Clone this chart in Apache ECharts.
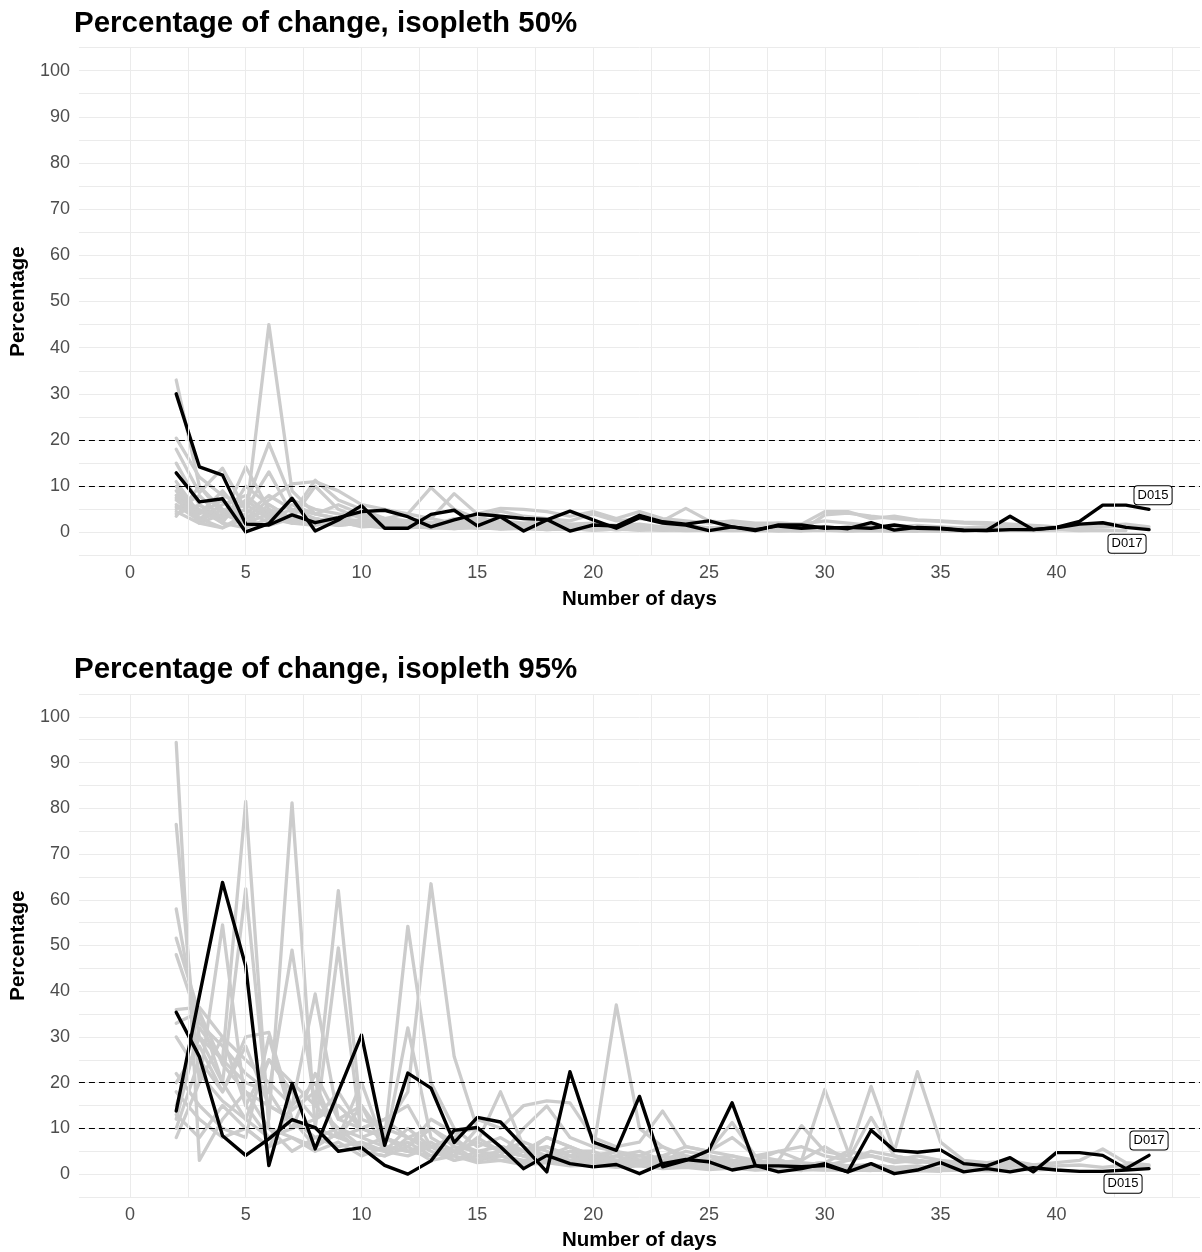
<!DOCTYPE html>
<html>
<head>
<meta charset="utf-8">
<script src="https://cdn.jsdelivr.net/npm/echarts@6/dist/echarts.min.js"></script>
<style>
  html, body { margin: 0; padding: 0; background: #ffffff; }
  #chart { width: 1202px; height: 1252px; }
</style>
</head>
<body>
<div id="chart"></div>
<script>
// Tracking day of each value (index 0 = day 2)
const days = [2, 3, 4, 5, 6, 7, 8, 9, 10, 11, 12, 13, 14, 15, 16, 17, 18, 19, 20, 21, 22, 23,
  24, 25, 26, 27, 28, 29, 30, 31, 32, 33, 34, 35, 36, 37, 38, 39, 40, 41, 42, 43, 44];

const xTicks = [0, 5, 10, 15, 20, 25, 30, 35, 40];
const yTicks = [0, 10, 20, 30, 40, 50, 60, 70, 80, 90, 100];
const thresholds = [10, 20];

// ---- Isopleth 50 % : highlighted individuals ----
const iso50_D015 = [30, 14.2, 12.4, 1.8, 1.6, 3.8, 2.1, 3.2, 4.5, 4.8, 3.4, 1.2, 2.7, 4.0, 3.5, 3.0, 2.8,
  0.3, 1.6, 1.4, 3.7, 2.3, 1.8, 2.5, 1.2, 0.4, 1.6, 1.6, 0.9, 1.1, 0.9, 1.6, 0.9, 0.8, 0.4, 0.5, 3.5,
  0.6, 1.1, 2.4, 5.9, 5.9, 5.0];
const iso50_D017 = [12.9, 6.6, 7.3, 0.1, 1.9, 7.4, 0.3, 2.7, 5.8, 0.9, 0.9, 3.9, 4.8, 1.4, 3.4, 0.3, 2.7,
  4.6, 2.7, 0.9, 3.2, 2.0, 1.6, 0.4, 1.2, 0.6, 1.4, 0.9, 1.2, 0.8, 2.1, 0.5, 1.1, 0.9, 0.5, 0.4, 0.6,
  0.6, 1.0, 1.8, 2.1, 1.1, 0.6];

// ---- Isopleth 50 % : other individuals ----
const iso50_g01 = [33, 10, 5, 3, 45, 9, 4, 3, 2.5, 2, 1.5, 2, 1.2, 1.5, 1, 1.2, 0.8, 1, 0.7, 1, 0.6, 0.8,
  0.5, 0.7, 0.5, 0.6, 0.4, 0.5, 0.6, 0.4, 0.5, 0.3, 0.4, 0.3, 0.4, 0.3];
const iso50_g02 = [20.4, 12, 8, 6, 19.3, 7, 5, 4, 3.5, 3, 2.5, 3, 2, 2.5, 2, 1.8, 2, 1.5, 1.8, 1.2, 1.5, 1,
  1.3, 1, 1.2, 0.9, 1, 0.8, 1, 0.7, 0.9, 0.6, 0.8, 0.6, 0.7, 0.5, 0.6, 0.5, 0.6, 0.4, 0.5, 0.4];
const iso50_g03 = [18, 8.6, 13.9, 5, 13.1, 4, 11.3, 7, 5, 3, 2, 1.5, 3, 2, 1.6, 1.2, 2, 1, 1.4, 0.9, 1.2,
  0.8, 1, 0.7, 0.9, 0.6, 1.2, 0.8, 0.7, 0.5, 0.6, 0.5];
const iso50_g04 = [15, 6, 3, 14.2, 5, 3, 2, 2.5, 1.8, 1.5, 2, 1, 1.5, 1.2, 1, 0.8, 1.1, 0.7, 0.9, 0.6, 0.8,
  0.5, 0.7, 0.5, 0.6, 0.4, 0.5, 0.4];
const iso50_g05 = [11, 4, 9, 3, 7, 10.5, 11, 9, 6, 5, 4, 9.7, 5, 3, 2.5, 2, 2.5, 1.8, 2, 1.5, 1.8, 1.2, 1.5,
  1, 1.2, 0.9, 1, 0.8, 0.9, 0.7, 0.8, 0.6, 0.7, 0.5, 0.6, 0.5, 0.6, 0.4, 0.5];
const iso50_g06 = [10, 3, 6, 8, 4, 6, 4, 3, 4, 3, 4, 3, 8.4, 4, 5.2, 5, 4.5, 3.5, 4.5, 3, 4.5, 3, 2.5, 2,
  2.5, 2, 2, 1.8, 4.5, 4.5, 3, 3.5, 2.7, 2.5, 2.2, 2.1, 1.8, 1.5, 1.2, 1, 1.2, 1.5];
const iso50_g07 = [9, 2, 4, 6, 3, 5, 3, 2, 2.5, 1.5, 2, 1.8, 1.2, 1.5, 1, 1.2, 0.8, 1, 0.7, 0.9, 0.6, 0.8,
  0.5, 0.7, 0.6, 0.5, 0.6, 0.4, 0.5, 0.4];
const iso50_g08 = [8, 5, 2, 10, 6, 3, 2.5, 3, 2, 1.8, 1.5, 1.2, 2, 1.5, 1.2, 1, 1.3, 0.9, 1.1, 0.8, 1, 0.7,
  0.8, 0.6, 0.7, 0.5];
const iso50_g09 = [7, 3, 1, 4, 8, 5, 4, 6, 4, 3, 2.5, 2, 2.5, 3, 4.6, 3.5, 3, 2.5, 4, 2.5, 3, 2.5, 5.2, 2.5,
  2, 1.5, 2, 1.8, 2.5, 2, 1.5, 1.2, 1.5, 1.2, 1, 1.2, 1, 0.8, 1, 1.2, 1.5, 1.8, 1.2];
const iso50_g10 = [6, 2.5, 5, 2, 4, 2.5, 3, 2, 1.5, 2, 1.2, 1.5, 1, 1.3, 0.8, 1.1, 0.7, 0.9, 0.6, 0.8, 0.5,
  0.7, 0.5, 0.6];
const iso50_g11 = [5, 8, 3, 5, 2, 4, 2, 3, 2, 2.5, 1.8, 2, 1.5, 1.8, 1.2, 1.5, 1, 1.2, 0.9, 1, 0.8, 0.9, 0.7,
  0.8, 0.6, 0.7, 0.5, 0.6, 0.5, 0.4, 0.5, 0.4, 0.3];
const iso50_g12 = [4.5, 2, 1, 3, 5, 2, 1.5, 2.5, 1.2, 1.5, 1, 1.3, 0.8, 1.1, 0.7, 0.9, 0.6, 0.8, 0.5, 0.7];
const iso50_g13 = [4, 6, 2, 1, 3, 2, 2.5, 1.5, 2, 1.2, 1.5, 1, 1.2, 0.9, 1, 0.8, 0.9, 0.7, 0.8, 0.6, 0.7,
  0.5, 0.6, 0.5, 0.6, 0.4, 0.5, 0.4, 0.5, 0.3, 0.4, 0.3, 0.4, 0.3, 0.4];
const iso50_g14 = [3.5, 10, 4, 2, 6, 3, 10, 5, 3, 2, 1.5, 2, 2.5, 2, 1.5, 1.8, 1.2, 1.4, 1, 1.2, 0.9, 1,
  0.8, 0.9];
const iso50_g15 = [5.5, 4, 7, 2.5, 1.5, 3, 2, 1.5, 2, 1.5, 1.2, 1, 1.4, 1, 1.2, 0.8, 1, 0.7, 0.9, 0.6, 0.8,
  0.5, 0.7, 0.5, 0.6, 0.4, 0.5, 0.4];
const iso50_g16 = [7.5, 4.5, 2.5, 7, 3.5, 2, 3, 2, 1.5, 1, 1.5, 1, 0.8, 1.2, 0.8, 1, 0.6, 0.8, 0.5, 0.7,
  0.5, 0.6, 0.4, 0.5, 0.4, 0.5, 0.3, 0.4, 3.8, 4.2, 3.5, 3, 2.6, 2.4, 2, 1.8, 1.5, 1.4, 1.2, 1.6, 2, 1.5];

// ---- Isopleth 95 % : highlighted individuals ----
const iso95_D017 = [13.8, 39, 63.8, 45.5, 1.9, 19.8, 5.5, 18, 30.4, 6.3, 22.1, 18.8, 6.9, 12.4, 11.4, 6,
  0.5, 22.4, 7, 5.2, 17, 1.6, 3, 5.2, 15.6, 1.9, 0.5, 1.2, 2.3, 0.5, 9.6, 5.2, 4.8, 5.3, 2.3, 1.8, 3.6,
  0.5, 4.7, 4.7, 4.1, 1.2, 4.1];
const iso95_D015 = [35.4, 25.7, 8.4, 4.1, 7.7, 11.9, 10.2, 5, 5.8, 1.9, 0, 2.9, 9.6, 10.2, 6, 1.2, 4.1,
  2.3, 1.6, 2.1, 0.1, 2.3, 3.2, 2.7, 0.9, 1.8, 1.8, 1.6, 1.9, 0.5, 2.3, 0.1, 0.9, 2.5, 0.5, 1.2, 0.5,
  1.4, 0.9, 0.6, 0.6, 0.9, 1.2];

// ---- Isopleth 95 % : other individuals ----
const iso95_g01 = [94.4, 3, 12, 18, 10, 8, 6, 9, 5, 4, 6, 3, 4, 2.5, 3, 2, 2.5, 1.8, 2, 1.5, 1.8, 1.2, 1.5,
  1, 1.3, 0.9, 1.1, 0.8];
const iso95_g02 = [76.5, 20, 54.5, 15, 8, 12, 6, 9, 5, 4, 8, 5, 3, 4, 3, 2.5, 3, 2, 2.5, 1.8, 2, 1.5, 1.8,
  1.2, 1.5, 1, 1.2, 0.9, 1, 0.8, 0.9, 0.7, 0.8, 0.6];
const iso95_g03 = [58, 30, 25, 81.5, 10, 5, 8, 6, 7, 5, 4, 6, 3, 5, 4, 3, 4, 2.5, 3, 2, 3, 2.5, 2, 1.5, 2,
  1.5, 1.8, 1.2, 1.5, 1, 1.2, 0.9, 1, 0.8, 0.9, 0.7, 0.8];
const iso95_g04 = [51.6, 35, 20, 62.4, 12, 81.2, 10, 8, 6, 5, 7, 4, 5, 3, 4, 2.5, 3, 2.5, 2, 3, 2, 1.5, 2,
  1.5, 1.2, 1.5, 1, 1.2, 0.9, 1, 0.8];
const iso95_g05 = [48, 33, 28, 22, 18, 49, 15, 62, 12, 10, 8, 6, 5, 7, 5, 4, 6, 4, 3, 5, 3, 2.5, 4, 3, 2.5,
  2, 3, 2, 2.5, 1.8, 2, 1.5, 1.8, 1.2, 1.5, 1, 1.2, 0.9, 1.1];
const iso95_g06 = [36, 36.5, 30, 25, 20, 15, 39.4, 12, 10, 8, 54.2, 20, 10, 6, 8, 5, 6, 4, 5, 3, 4, 3, 3.5,
  2.5, 3, 2, 2.5, 1.8, 2, 1.5, 2, 1.5];
const iso95_g07 = [33, 35.5, 24, 18, 15, 12, 10, 49.5, 8, 6, 5, 7, 4, 10, 6, 5, 4, 3, 4, 2.5, 3, 2, 2.5, 4,
  3, 2, 2.5, 1.8, 2, 1.5, 1.8, 1.2, 1.5, 1, 1.2];
const iso95_g08 = [30, 22, 16, 12, 25, 20, 15, 10, 8, 10, 18, 63.5, 25.7, 10, 6, 5, 8, 6, 4, 5, 3, 4, 3,
  2.5, 3, 2, 2.5, 1.8, 2, 1.5, 1.8, 1.2, 1.5];
const iso95_g09 = [22, 15, 10, 8, 30, 12, 10, 8, 20, 6, 32, 8, 5, 7, 18, 6, 4, 5, 5, 37, 10, 6, 4, 3, 4,
  2.5, 3, 2, 2.5, 1.8, 2, 1.5];
const iso95_g10 = [18, 12, 8, 10, 6, 15, 20, 8, 15, 5, 10, 6, 8, 12, 10, 15, 16, 15.6, 8, 6, 7, 13.8, 6, 5,
  8, 4, 5, 3, 18.5, 5, 4, 3, 2.5, 3, 2, 2.5, 1.8];
const iso95_g11 = [15, 30, 20, 12, 8, 10, 12, 18, 10, 8, 6, 10, 7, 5, 6, 4, 8, 6, 4, 5, 3, 4, 6, 5, 11.3, 4,
  3, 10.6, 5, 4, 19.2, 5, 22.4, 7, 3, 2.5, 3, 2, 2.5, 3, 5.5, 2.5, 2];
const iso95_g12 = [13, 8, 15, 10, 6, 8, 5, 7, 4, 6, 5, 4, 6, 3, 5, 4, 3, 4, 2.5, 3, 2, 2.5, 1.8, 3, 2, 2.5,
  1.5, 2, 1.8, 3, 12.4, 4, 3, 2, 2.5, 1.5, 2, 1.2, 1.5];
const iso95_g13 = [10, 25, 18, 28, 15, 12, 8, 10, 6, 8, 5, 6, 4, 8, 5, 4, 3, 5, 3, 4, 2.5, 3, 5, 4, 3, 2.5,
  3, 2, 2.5, 5, 4, 3, 4, 3, 2.5, 2, 2.5, 2, 1.8, 2, 1.5, 2, 1.8];
const iso95_g14 = [8, 20, 30, 15, 25, 18, 12, 15, 10, 12, 8, 10, 6, 5, 4, 10, 14.9, 8, 6, 5, 4, 6, 3, 5, 4,
  3, 5, 6, 4, 3, 5, 4, 3, 2.5, 2, 2.5, 2, 1.8];
const iso95_g15 = [12, 32, 25, 20, 18, 10, 22, 12, 15, 8, 6, 12, 9, 10, 6, 5, 4, 6, 3, 4, 5, 3, 2.5, 3, 2,
  3, 2.5, 3, 6, 3, 4, 2.5, 3, 2, 1.5, 2, 1.5];
const iso95_g16 = [20, 28, 18, 30, 31, 14, 18, 8, 10, 12, 15, 6, 8, 4, 5, 7, 5, 3, 4, 3, 2.5, 4, 3, 2, 3,
  2.5, 2, 2.5, 2, 1.5, 2];

const iso50Others = [iso50_g01, iso50_g02, iso50_g03, iso50_g04, iso50_g05, iso50_g06, iso50_g07, iso50_g08,
  iso50_g09, iso50_g10, iso50_g11, iso50_g12, iso50_g13, iso50_g14, iso50_g15, iso50_g16];
const iso95Others = [iso95_g01, iso95_g02, iso95_g03, iso95_g04, iso95_g05, iso95_g06, iso95_g07, iso95_g08,
  iso95_g09, iso95_g10, iso95_g11, iso95_g12, iso95_g13, iso95_g14, iso95_g15, iso95_g16];

const FONT = '"Liberation Sans", Arial, Helvetica, sans-serif';
const GRID_COLOR = '#ebebeb';

// vertical grid positions: every major tick plus the half-steps, up to 45
const xGrid = [];
xTicks.forEach(t => { xGrid.push(t, t + 2.5); });
xGrid.push(45);

const toPairs = vals => vals.map((v, i) => [days[i], v]);

function panelAxes(idx) {
  const xAxis = {
    type: 'value', gridIndex: idx, min: -2.2, max: 46.2,
    axisLine: { show: false }, axisTick: { show: false }, splitLine: { show: false },
    axisLabel: { customValues: xTicks, color: '#4d4d4d', fontSize: 18, fontFamily: FONT, margin: 9 },
    name: 'Number of days', nameLocation: 'middle', nameGap: 33,
    nameTextStyle: { fontSize: 20.5, fontWeight: 'bold', color: '#000', fontFamily: FONT }
  };
  const yAxis = {
    type: 'value', gridIndex: idx, min: -5, max: 105, interval: 5,
    axisLine: { show: false }, axisTick: { show: false },
    splitLine: { show: true, lineStyle: { color: GRID_COLOR, width: 1 } },
    axisLabel: {
      color: '#4d4d4d', fontSize: 18, fontFamily: FONT, margin: 9,
      formatter: v => (yTicks.indexOf(v) >= 0 ? String(v) : '')
    },
    name: 'Percentage', nameLocation: 'middle', nameGap: 46, nameRotate: 90,
    nameTextStyle: { fontSize: 20.5, fontWeight: 'bold', color: '#000', fontFamily: FONT }
  };
  return { xAxis, yAxis };
}

function panelSeries(idx, others, highlighted) {
  const out = [];
  // background vertical grid lines
  out.push({
    type: 'line', xAxisIndex: idx, yAxisIndex: idx, data: [], z: 0, silent: true,
    markLine: {
      silent: true, symbol: ['none', 'none'], label: { show: false }, animation: false,
      lineStyle: { color: GRID_COLOR, width: 1, type: 'solid' },
      emphasis: { disabled: true },
      data: xGrid.map(x => ({ xAxis: x }))
    }
  });
  others.forEach(vals => {
    out.push({
      type: 'line', xAxisIndex: idx, yAxisIndex: idx, data: toPairs(vals),
      showSymbol: false, symbol: 'none', silent: true, z: 2,
      lineStyle: { color: '#cccccc', width: 3.3, join: 'round', cap: 'round' },
      emphasis: { disabled: true }
    });
  });
  // 10 % and 20 % reference lines
  out.push({
    type: 'line', xAxisIndex: idx, yAxisIndex: idx, data: [], z: 3, silent: true,
    markLine: {
      silent: true, symbol: ['none', 'none'], label: { show: false }, animation: false,
      lineStyle: { color: '#000000', width: 1.2, type: [6, 4] },
      emphasis: { disabled: true },
      data: thresholds.map(y => ({ yAxis: y }))
    }
  });
  highlighted.forEach(h => {
    const pairs = toPairs(h.values);
    const last = pairs[pairs.length - 1];
    out.push({
      type: 'line', xAxisIndex: idx, yAxisIndex: idx, data: pairs, name: h.name,
      showSymbol: false, symbol: 'none', silent: true, z: 4,
      lineStyle: { color: '#000000', width: 3.4, join: 'round', cap: 'round' },
      emphasis: { disabled: true },
      markPoint: {
        silent: true, animation: false, symbol: 'circle', symbolSize: 1,
        itemStyle: { color: 'rgba(0,0,0,0)' },
        data: [{
          coord: last,
          label: {
            show: true, position: 'inside', formatter: h.name, offset: h.offset,
            color: '#000', fontSize: 13, fontFamily: FONT,
            backgroundColor: '#ffffff', borderColor: '#000000', borderWidth: 1,
            borderRadius: 3, padding: [3, 3, 2, 3]
          }
        }]
      }
    });
  });
  return out;
}

const axes50 = panelAxes(0);
const axes95 = panelAxes(1);

const option = {
  animation: false,
  backgroundColor: '#ffffff',
  title: [
    { text: 'Percentage of change, isopleth 50%', left: 74, top: 9, padding: 0,
      textStyle: { fontSize: 29.5, fontWeight: 'bold', color: '#000', fontFamily: FONT } },
    { text: 'Percentage of change, isopleth 95%', left: 74, top: 655, padding: 0,
      textStyle: { fontSize: 29.5, fontWeight: 'bold', color: '#000', fontFamily: FONT } }
  ],
  grid: [
    { left: 74, top: 47.5, width: 1126, height: 508 },
    { left: 74, top: 694, width: 1126, height: 508 }
  ],
  xAxis: [axes50.xAxis, axes95.xAxis],
  yAxis: [axes50.yAxis, axes95.yAxis],
  series: [
    ...panelSeries(0, iso50Others, [
      { name: 'D015', values: iso50_D015, offset: [4, -14] },
      { name: 'D017', values: iso50_D017, offset: [-22, 14] }
    ]),
    ...panelSeries(1, iso95Others, [
      { name: 'D017', values: iso95_D017, offset: [0, -15] },
      { name: 'D015', values: iso95_D015, offset: [-26, 15] }
    ])
  ]
};

const chart = echarts.init(document.getElementById('chart'), null, { renderer: 'canvas' });
chart.setOption(option);
</script>
</body>
</html>
